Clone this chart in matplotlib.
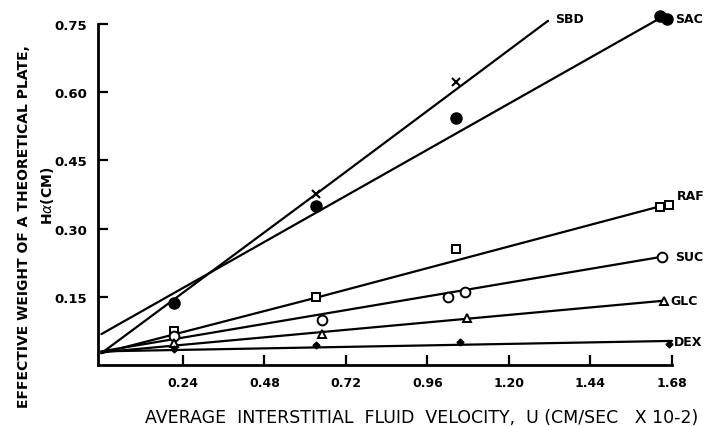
import matplotlib
matplotlib.use("Agg")
import matplotlib.pyplot as plt

# Data points
sbd_x = [0.632, 1.044]
sbd_y = [0.376, 0.622]
sac_x = [0.213, 0.632, 1.044, 1.645, 1.665]
sac_y = [0.137, 0.349, 0.543, 0.768, 0.762]
raf_x = [0.213, 0.632, 1.044, 1.645, 1.672]
raf_y = [0.075, 0.150, 0.256, 0.348, 0.352]
suc_x = [0.213, 0.650, 1.020, 1.070, 1.650]
suc_y = [0.063, 0.099, 0.150, 0.161, 0.238]
glc_x = [0.213, 0.650, 1.075, 1.655]
glc_y = [0.049, 0.068, 0.104, 0.141]
dex_x = [0.213, 0.632, 1.056, 1.670]
dex_y = [0.035, 0.044, 0.051, 0.046]

# Fitted lines as drawn
sbd_lx = [0.0, 0.632, 1.315]
sbd_ly = [0.026, 0.376, 0.757]
sac_lx = [0.0, 1.65]
sac_ly = [0.068, 0.765]
raf_lx = [0.0, 0.632, 1.65]
raf_ly = [0.026, 0.148, 0.350]
suc_lx = [0.0, 1.65]
suc_ly = [0.030, 0.238]
glc_lx = [0.0, 1.65]
glc_ly = [0.028, 0.141]
dex_lx = [0.0, 1.68]
dex_ly = [0.030, 0.053]

series_labels = ["SBD", "SAC", "RAF", "SUC", "GLC", "DEX"]
label_x = [1.335, 1.69, 1.695, 1.688, 1.675, 1.685]
label_y = [0.762, 0.762, 0.372, 0.238, 0.141, 0.052]

x_ticks = [0.24, 0.48, 0.72, 0.96, 1.20, 1.44, 1.68]
x_tick_labels = ["0.24", "0.48", "0.72", "0.96", "1.20", "1.44", "1.68"]
y_ticks = [0.15, 0.30, 0.45, 0.60, 0.75]
y_tick_labels = ["0.15", "0.30", "0.45", "0.60", "0.75"]

plt.rcParams['font.family'] = ['DejaVu Sans']
fig = plt.figure(figsize=(7.06, 4.27), dpi=100)
ax = fig.add_axes([98/706, 61/427, 574/706, 341/427])

lw = 1.6
for lx, ly in [(sbd_lx, sbd_ly), (sac_lx, sac_ly), (raf_lx, raf_ly),
               (suc_lx, suc_ly), (glc_lx, glc_ly), (dex_lx, dex_ly)]:
    ax.plot(lx, ly, color='black', lw=lw, clip_on=False, solid_capstyle='round')

ax.plot(sbd_x, sbd_y, 'x', color='black', ms=6, mew=1.5, clip_on=False)
ax.plot(sac_x, sac_y, 'o', color='black', ms=8, clip_on=False)
ax.plot(raf_x, raf_y, 's', mfc='white', mec='black', ms=6, mew=1.4, clip_on=False)
ax.plot(suc_x, suc_y, 'o', mfc='white', mec='black', ms=7, mew=1.4, clip_on=False)
ax.plot(glc_x, glc_y, '^', mfc='white', mec='black', ms=6, mew=1.4, clip_on=False)
ax.plot(dex_x, dex_y, 'D', color='black', ms=3.5, clip_on=False)

for t, x, y in zip(series_labels, label_x, label_y):
    ax.text(x, y, t, fontsize=9, fontweight='bold', ha='left', va='center')

ax.set_xlim(-0.01, 1.68)
ax.set_ylim(0, 0.75)
ax.set_xticks(x_ticks)
ax.set_xticklabels(x_tick_labels, fontsize=9, fontweight='bold')
ax.set_yticks(y_ticks)
ax.set_yticklabels(y_tick_labels, fontsize=9.5, fontweight='bold')
ax.tick_params(direction='in', length=7, width=1.6, pad=8)
ax.spines['top'].set_visible(False)
ax.spines['right'].set_visible(False)
ax.spines['left'].set_linewidth(2)
ax.spines['bottom'].set_linewidth(2)

fig.text(24/706, 1 - 227/427, "EFFECTIVE WEIGHT OF A THEORETICAL PLATE,",
         rotation=90, ha='center', va='center', fontsize=10, fontweight='bold')
fig.text(47/706, 1 - 196/427, "H$\\alpha$(CM)", rotation=90, ha='center', va='center',
         fontsize=10, fontweight='bold')
fig.text(422/706, 1 - 418/427, "AVERAGE  INTERSTITIAL  FLUID  VELOCITY,  U (CM/SEC   X 10-2)",
         ha='center', va='center', fontsize=12.5)

fig.savefig("out.png", dpi=100)
